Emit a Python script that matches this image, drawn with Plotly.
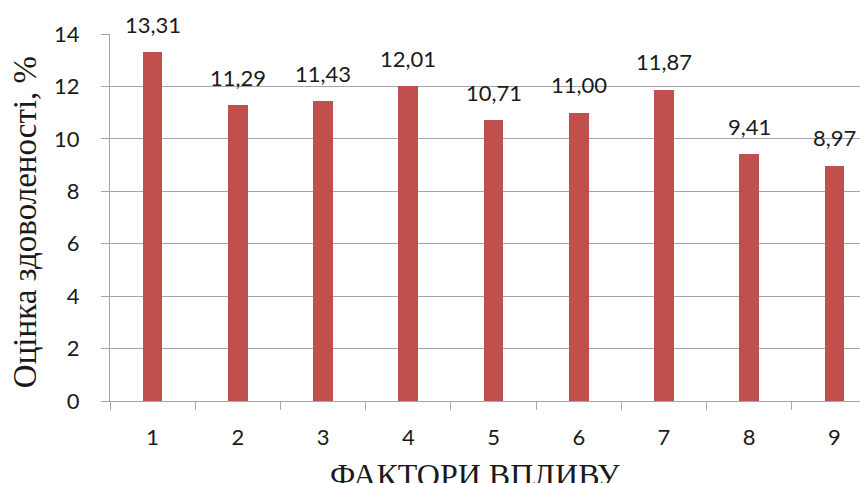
import plotly.graph_objects as go

factors = ["1", "2", "3", "4", "5", "6", "7", "8", "9"]
satisfaction = [13.31, 11.29, 11.43, 12.01, 10.71, 11.00, 11.87, 9.41, 8.97]
y_ticks = [0, 2, 4, 6, 8, 10, 12, 14]

labels = [f"{v:.2f}".replace(".", ",") for v in satisfaction]

grid = "#A6A6A6"
bar_color = "#C0504D"
tick_font = dict(family="Lato, Open Sans, sans-serif", size=22, color="#1a1a1a")
serif = "Liberation Serif, Times New Roman, serif"

fig = go.Figure(
    go.Bar(
        x=factors,
        y=satisfaction,
        width=0.23,
        marker=dict(color=bar_color, line=dict(width=0)),
        hoverinfo="x+y",
    )
)

# value labels above each bar, with a decimal comma
# (a category axis places category i at position i)
for i, (v, lab) in enumerate(zip(satisfaction, labels)):
    fig.add_annotation(
        x=i, y=v, text=lab,
        xref="x", yref="y",
        yanchor="middle", yshift=28,
        showarrow=False,
        font=tick_font,
    )

fig.update_layout(
    width=860,
    height=483,
    margin=dict(l=110, r=0, t=34, b=82),
    plot_bgcolor="white",
    paper_bgcolor="white",
    showlegend=False,
    bargap=0,
)

fig.update_xaxes(
    type="category",
    range=[-0.5, 8.3],
    showline=True,
    linecolor=grid,
    linewidth=1,
    ticks="outside",
    tickson="boundaries",
    ticklen=8,
    tickcolor=grid,
    tickfont=tick_font,
    ticklabelstandoff=17,
    showgrid=False,
    zeroline=False,
)

fig.update_yaxes(
    range=[0, 14],
    tickvals=y_ticks,
    showline=True,
    linecolor=grid,
    linewidth=1,
    ticks="outside",
    ticklen=8,
    tickcolor=grid,
    tickfont=tick_font,
    ticklabelstandoff=17,
    showgrid=True,
    gridcolor=grid,
    gridwidth=1,
    zeroline=False,
)

fig.add_annotation(
    text="Оцінка здоволеності, %",
    xref="paper", yref="paper",
    x=-0.113, y=0.488,
    xanchor="center", yanchor="middle",
    textangle=-90,
    showarrow=False,
    font=dict(family=serif, size=33, color="#1a1a1a"),
)

fig.add_annotation(
    text="ФАКТОРИ ВПЛИВУ",
    xref="paper", yref="paper",
    x=0.487, y=-0.147,
    xanchor="center", yanchor="top",
    showarrow=False,
    font=dict(family=serif, size=32, color="#1a1a1a"),
)

fig.write_html("out.html")
